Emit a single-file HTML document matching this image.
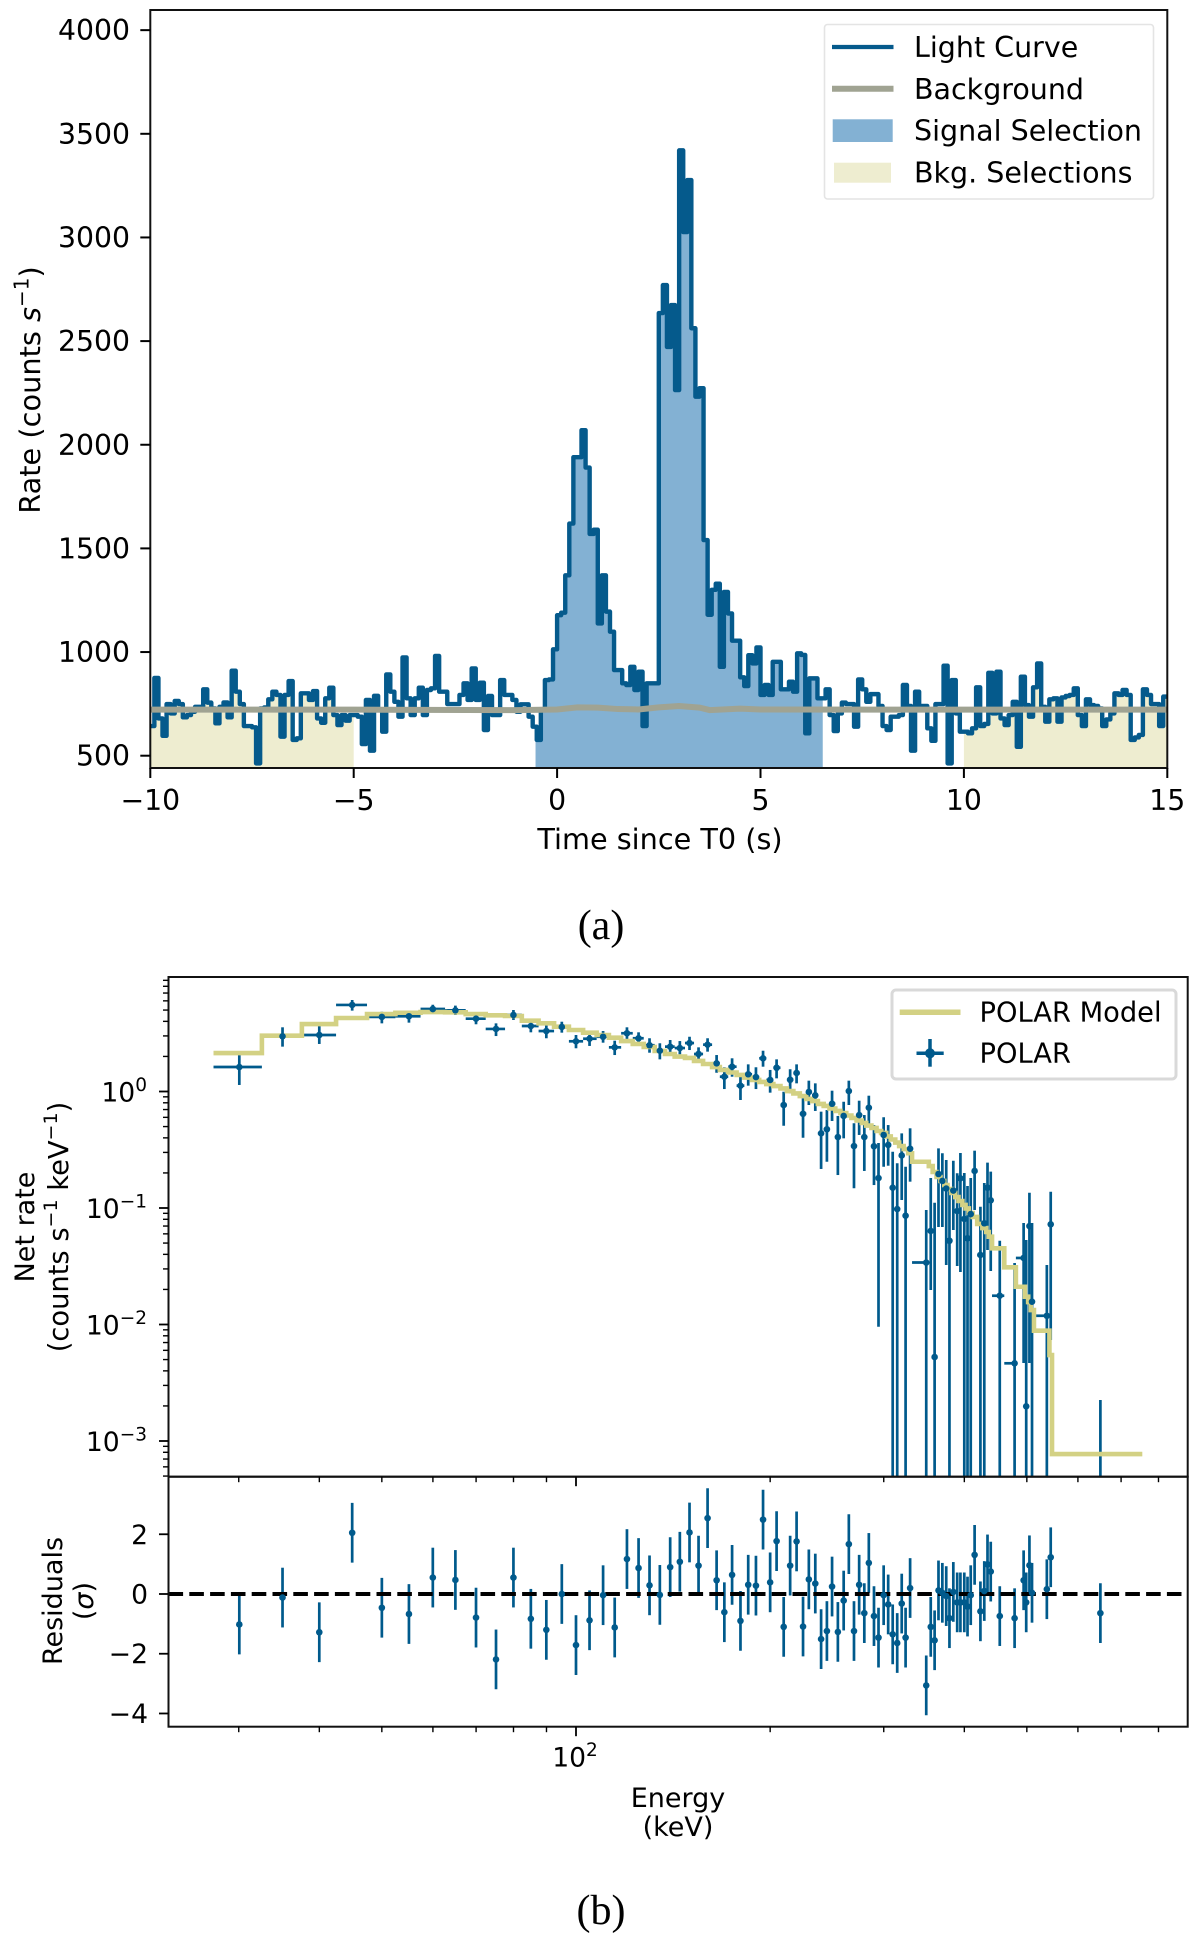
<!DOCTYPE html>
<html lang="en">
<head>
<meta charset="utf-8">
<title>Light curve and spectrum</title>
<style>
html,body{margin:0;padding:0;background:#fff;}
svg{display:block;}
text{font-family:"DejaVu Sans","Liberation Sans",sans-serif;fill:#000;}
.cap{font-family:"Liberation Serif",serif;font-size:42px;}
</style>
</head>
<body>
<svg id="fig" xmlns="http://www.w3.org/2000/svg" width="1200" height="1945" viewBox="0 0 1200 1945">
  <defs>
    <clipPath id="clipA"><rect x="150.3" y="10" width="1017" height="758"/></clipPath>
    <clipPath id="clipB"><rect x="168.5" y="977" width="1019.2" height="499.7"/></clipPath>
    <clipPath id="clipR"><rect x="168.5" y="1476.7" width="1019.2" height="250"/></clipPath>
  </defs>
  <rect width="1200" height="1945" fill="#fff"/>
  <g id="panelA"></g>
  <g id="panelB"></g>
  <g id="panelR"></g>

  <text transform="translate(40,390) rotate(-90)" text-anchor="middle" font-size="28.8">Rate (counts <tspan font-style="italic">s</tspan><tspan font-size="20" dy="-11.5">−1</tspan><tspan dy="11.5">)</tspan></text>
  <text x="660" y="849" text-anchor="middle" font-size="28.7">Time since T0 (s)</text>
  <text class="cap" x="601" y="939" text-anchor="middle">(a)</text>

  <g>
    <rect x="824.5" y="24.5" width="329" height="174.5" rx="3" fill="#fff" stroke="#e4e4e4" stroke-width="1.6"/>
    <line x1="832" y1="47" x2="893.5" y2="47" stroke="#055a8c" stroke-width="4.2"/>
    <text x="914" y="57" font-size="28.5">Light Curve</text>
    <line x1="832" y1="88.7" x2="893.5" y2="88.7" stroke="#a0a392" stroke-width="6"/>
    <text x="914" y="99" font-size="28.5">Background</text>
    <rect x="832.7" y="119.3" width="60" height="22.7" fill="#83b1d3"/>
    <text x="914" y="140.7" font-size="28.5">Signal Selection</text>
    <rect x="834" y="162.7" width="57" height="20" fill="#eeedd0"/>
    <text x="914" y="182.3" font-size="28.5">Bkg. Selections</text>
  </g>

  <text transform="translate(34,1227) rotate(-90)" text-anchor="middle" font-size="27">Net rate</text>
  <text transform="translate(68,1227) rotate(-90)" text-anchor="middle" font-size="27.3">(counts s<tspan font-size="19" dy="-11">−1</tspan><tspan dy="11"> keV</tspan><tspan font-size="19" dy="-11">−1</tspan><tspan dy="11">)</tspan></text>
  <text transform="translate(62,1601) rotate(-90)" text-anchor="middle" font-size="27">Residuals</text>
  <text transform="translate(93,1601) rotate(-90)" text-anchor="middle" font-size="27">(<tspan font-style="italic">σ</tspan>)</text>
  <text x="678" y="1807" text-anchor="middle" font-size="27">Energy</text>
  <text x="678" y="1836" text-anchor="middle" font-size="27">(keV)</text>
  <text class="cap" x="601" y="1924" text-anchor="middle">(b)</text>

  <g>
    <rect x="892" y="990" width="284" height="89" rx="4" fill="#fff" stroke="#d9d9d9" stroke-width="3"/>
    <line x1="899.7" y1="1012.3" x2="960.5" y2="1012.3" stroke="#d3d184" stroke-width="5.5"/>
    <text x="979.5" y="1021.7" font-size="27.3">POLAR Model</text>
    <line x1="916.5" y1="1053.3" x2="943.7" y2="1053.3" stroke="#005a8c" stroke-width="3.5"/>
    <line x1="930" y1="1039" x2="930" y2="1066.7" stroke="#005a8c" stroke-width="3.5"/>
    <circle cx="930" cy="1053.3" r="5" fill="#005a8c"/>
    <text x="979.5" y="1062.7" font-size="27.3">POLAR</text>
  </g>
</svg>
<script>
// ---------- Panel (a) data ----------
const binStart = -10;
const binWidth = 0.1;
const lightCurve = [
643,875,680,596,749,704,764,749,685,696,712,736,736,820,756,728,656,736,757,685,910,809,749,643,643,637,463,728,733,772,809,793,592,793,860,576,584,801,801,769,812,680,659,777,828,696,648,696,669,696,696,688,556,769,524,789,720,616,892,809,760,688,974,777,696,777,828,696,817,825,981,809,809,749,749,749,793,849,769,921,769,852,624,788,696,696,
865,793,793,769,712,748,748,688,640,576,720,865,868,1013,
1178,1190,1370,1620,1940,1940,2070,1890,1570,1590,1138,1370,1195,1098,913,913,849,841,929,817,905,643,849,849,
849,2635,2770,2472,2674,2264,3420,3026,3277,2562,2232,2273,1540,1180,1300,1330,
929,1290,1186,1055,1055,878,836,985,945,1022,793,841,793,953,953,820,820,857,809,994,986,608,873,873,777,777,820,696,
619,704,756,749,749,640,868,820,760,797,797,740,643,624,688,688,696,841,740,524,809,740,740,632,572,749,749,934,463,865,704,616,
616,608,632,830,643,653,900,704,905,680,648,696,760,543,881,744,688,830,945,736,664,772,777,664,781,788,793,825,696,643,772,744,740,728,643,675,704,801,793,817,793,576,588,600,820,793,749,749,643,785];
const backgroundTimes = [-10,-5,-1,0,0.5,1,1.5,2,2.5,3,3.5,3.75,4.5,5,8,15];
const backgroundRates = [722,722,720,723,733,732,725,723,733,740,732,720,727,723,722,722];
const signalSelection = [-0.53,6.53];
const bkgSelections = [[-10,-5],[10,15]];
const timeTicks = [-10,-5,0,5,10,15];
const rateTicks = [500,1000,1500,2000,2500,3000,3500,4000];

// ---------- Panel (b) data ----------
const logEnergy = [1.478,1.545,1.602,1.653,1.699,1.741,1.778,1.813,1.845,1.876,1.903,1.930,1.954,1.978,2.000,2.021,2.042,2.060,2.079,2.097,2.114,2.130,2.146,2.161,2.176,2.190,2.204,2.218,2.230,2.242,2.255,2.267,2.279,2.290,2.301,2.311,2.322,2.332,2.342,2.352,2.361,2.371,2.380,2.389,2.397,2.406,2.415,2.423,2.431,2.439,2.447,2.454,2.462,2.469,2.477,2.484,2.491,2.498,2.505,2.511,2.518,2.543,2.550,2.556,2.562,2.568,2.574,2.579,2.585,2.591,2.596,2.602,2.607,2.612,2.618,2.627,2.633,2.638,2.643,2.657,2.680,2.694,2.698,2.703,2.707,2.730,2.736,2.813];
const logBinEdges = [1.438,1.513,1.575,1.628,1.676,1.720,1.759,1.797,1.829,1.860,1.890,1.916,1.942,1.966,1.989,2.011,2.032,2.051,2.070,2.088,2.105,2.122,2.138,2.153,2.169,2.183,2.197,2.211,2.223,2.236,2.249,2.261,2.273,2.284,2.295,2.306,2.317,2.327,2.337,2.347,2.357,2.366,2.375,2.384,2.393,2.402,2.410,2.419,2.427,2.435,2.443,2.450,2.458,2.466,2.473,2.481,2.488,2.495,2.501,2.508,2.515,2.521,2.547,2.553,2.559,2.565,2.571,2.576,2.582,2.588,2.593,2.599,2.604,2.609,2.615,2.622,2.630,2.636,2.640,2.645,2.664,2.682,2.696,2.701,2.705,2.710,2.734,2.738,2.878];
const logRate = [.210,.474,.485,.743,.640,.646,.708,.697,.625,.537,.657,.562,.519,.554,.431,.453,.470,.379,.500,.457,.397,.350,.385,.373,.416,.322,.402,.242,.127,.213,.050,.148,.124,.285,.099,.204,-.116,.101,.159,-.191,-.004,-.033,-.359,-.324,-.105,-.391,-.210,.004,-.468,-.202,-.391,-.139,-.470,-.743,-.373,-.459,-.826,-1.009,-.549,-1.066,-.491,-1.468,-1.197,-2.279,-.708,-.768,-.833,-1.281,-.850,-1.026,-.745,-1.094,-1.260,-1.052,-.682,-1.403,-1.131,-.826,-.934,-1.753,-2.333,-1.429,-2.702,-1.155,-1.804,-1.925,-1.140,-4];
const logRateHigh = [.313,.551,.562,.785,.685,.685,.745,.737,.665,.585,.700,.614,.571,.599,.485,.500,.519,.436,.551,.508,.457,.414,.442,.433,.470,.379,.457,.313,.208,.285,.150,.233,.208,.350,.185,.276,-.002,.191,.233,-.058,.093,.070,-.173,-.159,.007,-.210,-.088,.093,-.273,-.079,-.202,-.036,-.288,-.442,-.221,-.288,-.517,-.616,-.359,-.646,-.316,-1.017,-.743,-.955,-.488,-.530,-.588,-.846,-.594,-.702,-.528,-.700,-.811,-.743,-.508,-.989,-.785,-.611,-.688,-1.281,-1.472,-1.129,-1.275,-.869,-1.129,-1.489,-.860,-2.648];
const logRateLow = [.056,.385,.408,.694,.585,.591,.665,.657,.577,.476,.614,.508,.457,.505,.371,.391,.419,.313,.448,.408,.333,.276,.328,.319,.356,.270,.342,.161,.021,.127,-.073,.050,.021,.213,-.010,.113,-.294,-.015,.070,-.397,-.116,-.167,-.665,-.603,-.253,-.717,-.402,-.116,-.831,-.373,-.682,-.302,-.803,-2.019,-.646,-.637,-4,-4,-.931,-4,-.774,-4,-1.704,-4,-1.163,-1.163,-1.489,-4,-1.189,-1.498,-1.549,-4,-4,-4,-1.017,-4,-4,-1.361,-1.541,-4,-4,-2.331,-4,-2.331,-4,-4,-2.133,-4];
const logModel = [.330,.479,.579,.631,.665,.676,.682,.680,.665,.654,.648,.608,.585,.556,.528,.505,.485,.462,.433,.408,.382,.348,.322,.300,.288,.262,.236,.210,.185,.163,.142,.120,.099,.082,.064,.047,.026,.004,-.017,-.039,-.064,-.082,-.107,-.124,-.146,-.167,-.185,-.206,-.227,-.249,-.270,-.292,-.313,-.339,-.356,-.386,-.412,-.438,-.468,-.494,-.530,-.603,-.640,-.691,-.734,-.768,-.803,-.837,-.871,-.906,-.940,-.974,-1.004,-1.043,-1.077,-1.137,-1.172,-1.206,-1.246,-1.346,-1.509,-1.676,-1.761,-1.807,-1.876,-2.053,-2.262,-3.112];
const residuals = [-1.02,-.12,-1.28,2.05,-.46,-.67,.55,.47,-.79,-2.19,.55,-.83,-1.2,0,-1.71,-.88,-.04,-1.12,1.17,.87,.29,-.03,.9,1.08,2.06,.95,2.54,.46,-.61,.64,-.9,.31,.28,2.49,.39,1.77,-1.1,.95,1.76,-1.09,.49,.35,-1.51,-1.24,.25,-1.27,-.22,1.67,-1.24,.31,-.64,1.04,-.74,-1.46,-.04,-.35,-1.35,-1.64,-.32,-1.46,.2,-3.06,-1.1,-1.55,.12,.04,-.07,-.81,.07,-.28,-.28,-.28,-.42,-.04,1.31,-.58,.1,.99,.75,-.74,-.81,.46,-.28,.96,.04,.16,1.23,-.64];
const residualError = 1;
const energyMajorTicks = [100];
const energyMinorTicks = [30,40,50,60,70,80,90,200,300,400,500,600,700,800];
const rateDecades = [0,-1,-2,-3];
const residualTicks = [2,0,-2,-4];

// ---------- Axis functions ----------
const xA = t => 557.1 + 40.68 * t;
const yA = v => 755.7 - (v - 500) * 0.2073;
const xB = logE => 576 + 645 * (logE - 2);
const yB = logR => 1091.5 - 116.5 * logR;
const yR = r => 1594 - 29.87 * r;

const NS = 'http://www.w3.org/2000/svg';
function mk(parent, tag, attrs) {
  const el = document.createElementNS(NS, tag);
  for (const k in attrs) el.setAttribute(k, attrs[k]);
  parent.appendChild(el);
  return el;
}
function fmt(n) { return String(n).replace('-', '\u2212'); }

const panelA = document.getElementById('panelA');
const panelB = document.getElementById('panelB');
const panelR = document.getElementById('panelR');
const BLUE = '#055a8c', MODEL = '#d3d184';

// ---------- Panel (a) marks ----------
const clipGroupA = mk(panelA, 'g', {'clip-path': 'url(#clipA)'});



function selectionPath(range) {
  const base = yA(441);
  let d = 'M' + xA(range[0]) + ' ' + base;
  lightCurve.forEach((v, i) => {
    const a = binStart + i * binWidth, b = a + binWidth;
    const l = Math.max(a, range[0]), r = Math.min(b, range[1]);
    if (r > l) d += 'L' + xA(l).toFixed(2) + ' ' + yA(v).toFixed(2) + 'L' + xA(r).toFixed(2) + ' ' + yA(v).toFixed(2);
  });
  return d + 'L' + xA(range[1]) + ' ' + base + 'Z';
}
bkgSelections.forEach(range => {
  const p = mk(clipGroupA, 'path', {d: selectionPath(range), fill: '#eeedd0'});
  
  
});
const sigPath = mk(clipGroupA, 'path', {d: selectionPath(signalSelection), fill: '#83b1d3'});



let lcD = '';
lightCurve.forEach((v, i) => {
  const a = binStart + i * binWidth;
  lcD += (i ? 'L' : 'M') + xA(a).toFixed(2) + ' ' + yA(v).toFixed(2) + 'L' + xA(a + binWidth).toFixed(2) + ' ' + yA(v).toFixed(2);
});
const lcPath = mk(clipGroupA, 'path', {d: lcD, fill: 'none', stroke: BLUE, 'stroke-width': 4.4, 'stroke-linejoin': 'round'});



const bgPts = backgroundTimes.map((t, i) => xA(t).toFixed(2) + ',' + yA(backgroundRates[i]).toFixed(2)).join(' ');
const bgLine = mk(clipGroupA, 'polyline', {points: bgPts, fill: 'none', stroke: '#a0a392', 'stroke-width': 6});



const frameA = mk(panelA, 'rect', {x: 150.3, y: 10, width: 1017, height: 758, fill: 'none', stroke: '#111', 'stroke-width': 2});



timeTicks.forEach(t => {
  const tick = mk(panelA, 'line', {x1: xA(t), x2: xA(t), y1: 768, y2: 778, stroke: '#000', 'stroke-width': 2});
  
  
  const lab = mk(panelA, 'text', {x: xA(t), y: 810, 'text-anchor': 'middle', 'font-size': 28.3});
  
  
  lab.textContent = fmt(t);
});
rateTicks.forEach(v => {
  const tick = mk(panelA, 'line', {x1: 140.3, x2: 150.3, y1: yA(v), y2: yA(v), stroke: '#000', 'stroke-width': 2});
  
  
  const lab = mk(panelA, 'text', {x: 130, y: yA(v) + 10, 'text-anchor': 'end', 'font-size': 28.3});
  
  
  lab.textContent = fmt(v);
});

// ---------- Panel (b) marks ----------
const clipGroupB = mk(panelB, 'g', {'clip-path': 'url(#clipB)'});



logEnergy.forEach((e, i) => {
  const v = mk(clipGroupB, 'line', {x1: xB(e), x2: xB(e), y1: yB(logRateHigh[i]), y2: yB(logRateLow[i]), stroke: '#005a8c', 'stroke-width': 2.7});
  
  
  const h = mk(clipGroupB, 'line', {x1: xB(logBinEdges[i]), x2: xB(logBinEdges[i + 1]), y1: yB(logRate[i]), y2: yB(logRate[i]), stroke: '#005a8c', 'stroke-width': 2.7});
  
  
});

let modelD = '';
logModel.forEach((m, i) => {
  modelD += (i ? 'L' : 'M') + xB(logBinEdges[i]).toFixed(2) + ' ' + yB(m).toFixed(2) + 'L' + xB(logBinEdges[i + 1]).toFixed(2) + ' ' + yB(m).toFixed(2);
});
const modelPath = mk(clipGroupB, 'path', {d: modelD, fill: 'none', stroke: MODEL, 'stroke-width': 4.6});



logEnergy.forEach((e, i) => {
  const c = mk(clipGroupB, 'circle', {cx: xB(e), cy: yB(logRate[i]), r: 3.3, fill: '#005a8c'});
  
  
});

const frameB = mk(panelB, 'rect', {x: 168.5, y: 977, width: 1019.2, height: 499.7, fill: 'none', stroke: '#111', 'stroke-width': 2});



rateDecades.forEach(d => {
  const tick = mk(panelB, 'line', {x1: 159, x2: 168.5, y1: yB(d), y2: yB(d), stroke: '#000', 'stroke-width': 1.8});
  
  
  const lab = mk(panelB, 'text', {x: 147, y: yB(d) + 10, 'text-anchor': 'end', 'font-size': 26.6});
  
  
  lab.appendChild(document.createTextNode('10'));
  const sup = mk(lab, 'tspan', {'font-size': 18.5, dy: -10.5});
  sup.textContent = fmt(d);
});
for (let d = -4; d <= 0; d++) {
  for (let m = 2; m <= 9; m++) {
    const lv = d + Math.log10(m);
    if (lv > 0.983 || lv < -3.31) continue;
    const tick = mk(panelB, 'line', {x1: 163, x2: 168.5, y1: yB(lv), y2: yB(lv), stroke: '#000', 'stroke-width': 1.4});
    
    
  }
}

// ---------- Residual marks ----------
const clipGroupR = mk(panelR, 'g', {'clip-path': 'url(#clipR)'});



logEnergy.forEach((e, i) => {
  const v = mk(clipGroupR, 'line', {x1: xB(e), x2: xB(e), y1: yR(residuals[i] + residualError), y2: yR(residuals[i] - residualError), stroke: '#005a8c', 'stroke-width': 2.7});
  
  
});
const zeroLine = mk(clipGroupR, 'line', {x1: 168.5, x2: 1187.7, y1: yR(0), y2: yR(0), stroke: '#000', 'stroke-width': 4, 'stroke-dasharray': '14.6 6.2'});


logEnergy.forEach((e, i) => {
  const c = mk(clipGroupR, 'circle', {cx: xB(e), cy: yR(residuals[i]), r: 3.3, fill: '#005a8c'});
  
  
});

const frameR = mk(panelR, 'rect', {x: 168.5, y: 1476.7, width: 1019.2, height: 250, fill: 'none', stroke: '#111', 'stroke-width': 2});



residualTicks.forEach(r => {
  const tick = mk(panelR, 'line', {x1: 159, x2: 168.5, y1: yR(r), y2: yR(r), stroke: '#000', 'stroke-width': 1.8});
  
  
  const lab = mk(panelR, 'text', {x: 148, y: yR(r) + 9.5, 'text-anchor': 'end', 'font-size': 26.6});
  
  
  lab.textContent = fmt(r);
});
[1476.7, 1726.7].forEach(y0 => {
  energyMinorTicks.forEach(E => {
    const x = xB(Math.log10(E));
    const tick = mk(panelR, 'line', {x1: x, x2: x, y1: y0, y2: y0 + 5.5, stroke: '#000', 'stroke-width': 1.4});
    
    
  });
  energyMajorTicks.forEach(E => {
    const x = xB(Math.log10(E));
    const tick = mk(panelR, 'line', {x1: x, x2: x, y1: y0, y2: y0 + 9.5, stroke: '#000', 'stroke-width': 1.8});
    
    
  });
});
energyMajorTicks.forEach(E => {
  const lab = mk(panelR, 'text', {x: xB(Math.log10(E)) - 1, y: 1766.7, 'text-anchor': 'middle', 'font-size': 26.6});
  
  
  lab.appendChild(document.createTextNode('10'));
  const sup = mk(lab, 'tspan', {'font-size': 18.5, dy: -10.5});
  sup.textContent = String(Math.log10(E));
});
</script>
</body>
</html>
